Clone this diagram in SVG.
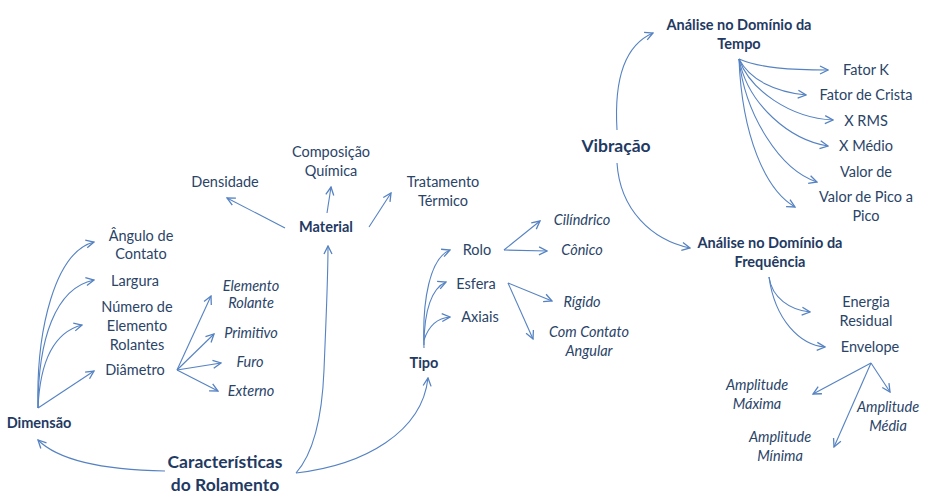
<svg xmlns="http://www.w3.org/2000/svg" width="928" height="494" viewBox="0 0 928 494">
<defs>
<marker id="ah" viewBox="0 0 10 10" refX="9" refY="5" markerWidth="10" markerHeight="10" markerUnits="userSpaceOnUse" orient="auto">
<path d="M1,1 L9,5 L1,9" fill="none" stroke="#5582c2" stroke-width="1.3"/>
</marker>
<style>
text{font-family:Lato,"Open Sans","Liberation Sans",sans-serif;text-anchor:middle;fill:#2a4468}
.r{font-size:14.5px}
.i{font-size:14.5px;font-style:italic}
.b{font-size:14.5px;font-weight:bold;fill:#1f3a63}
.bb{font-size:17.5px;font-weight:bold;fill:#1f3a63}
.c path{fill:none;stroke:#5582c2;stroke-width:1.1;marker-end:url(#ah)}
.c path.n{marker-end:none}
</style>
</defs>
<rect width="928" height="494" fill="#ffffff"/>
<g class="c" id="connectors">
<path d="M165,471 C110,470 60,462 38,440"/>
<path class="n" d="M296,473 C312,455 322,420 324,370"/>
<path d="M324,370 C326,320 328,280 328,246"/>
<path d="M296,473 C365,465 422,432 428,378"/>
<path d="M38,408 C36,330 55,252 94,242"/>
<path d="M38,408 C38,340 55,288 94,280"/>
<path d="M38,408 C40,360 55,332 82,325"/>
<path d="M38,408 L94,371"/>
<path d="M177,370 L211,296"/>
<path d="M177,370 L214,334"/>
<path d="M177,370 L221,363"/>
<path d="M177,370 L218,391"/>
<path d="M285,228 L227,198"/>
<path d="M327,213 L331,187"/>
<path d="M369,227 L391,193"/>
<path d="M424,348 C422,300 430,258 450,250"/>
<path d="M424,345 C424,310 432,288 446,282"/>
<path d="M424,340 C428,328 436,318 450,317"/>
<path d="M504,250 L540,221"/>
<path d="M504,250 L547,251"/>
<path d="M508,283 L552,301"/>
<path d="M508,283 L533,339"/>
<path d="M617,130 C614,80 625,45 653,33"/>
<path d="M617,163 C620,210 652,240 690,248"/>
<path d="M739,59 C760,68 790,70 828,70"/>
<path d="M739,59 C750,80 775,92 806,95"/>
<path d="M739,59 C750,90 790,118 833,120"/>
<path d="M739,59 C748,105 790,140 828,146"/>
<path d="M739,59 C745,115 780,170 817,182"/>
<path d="M739,59 C742,135 765,190 795,207"/>
<path d="M769,277 C772,298 790,310 810,312"/>
<path d="M769,277 C775,320 800,345 825,347"/>
<path d="M871,363 L813,394"/>
<path d="M871,363 L834,447"/>
<path d="M871,363 L890,392"/>
</g>
<g id="caracteristicas"><text class="bb" x="225" y="468">Características</text><text class="bb" x="225" y="491">do Rolamento</text></g>
<g id="dimensao"><text class="b" x="39" y="428">Dimensão</text></g>
<g id="angulo"><text class="r" x="141" y="241">Ângulo de</text><text class="r" x="141" y="259">Contato</text></g>
<g id="largura"><text class="r" x="135" y="286">Largura</text></g>
<g id="numero"><text class="r" x="137" y="312">Número de</text><text class="r" x="137" y="331">Elemento</text><text class="r" x="137" y="350">Rolantes</text></g>
<g id="diametro"><text class="r" x="135" y="375">Diâmetro</text></g>
<g id="elemrolante"><text class="i" x="251" y="291">Elemento</text><text class="i" x="251" y="308">Rolante</text></g>
<g id="primitivo"><text class="i" x="251" y="338">Primitivo</text></g>
<g id="furo"><text class="i" x="250" y="367">Furo</text></g>
<g id="externo"><text class="i" x="251" y="396">Externo</text></g>
<g id="material"><text class="b" x="326" y="232">Material</text></g>
<g id="densidade"><text class="r" x="225" y="187">Densidade</text></g>
<g id="composicao"><text class="r" x="331" y="157">Composição</text><text class="r" x="331" y="176">Química</text></g>
<g id="tratamento"><text class="r" x="443" y="187">Tratamento</text><text class="r" x="443" y="206">Térmico</text></g>
<g id="tipo"><text class="b" x="424" y="368">Tipo</text></g>
<g id="rolo"><text class="r" x="477" y="255">Rolo</text></g>
<g id="esfera"><text class="r" x="476" y="289">Esfera</text></g>
<g id="axiais"><text class="r" x="480" y="322">Axiais</text></g>
<g id="cilindrico"><text class="i" x="582" y="225">Cilíndrico</text></g>
<g id="conico"><text class="i" x="582" y="255">Cônico</text></g>
<g id="rigido"><text class="i" x="582" y="307">Rígido</text></g>
<g id="comcontato"><text class="i" x="589" y="337">Com Contato</text><text class="i" x="589" y="356">Angular</text></g>
<g id="vibracao"><text class="bb" x="616" y="152">Vibração</text></g>
<g id="tempo"><text class="b" x="739" y="30">Análise no Domínio da</text><text class="b" x="739" y="49">Tempo</text></g>
<g id="fatork"><text class="r" x="866" y="75">Fator K</text></g>
<g id="fatorcrista"><text class="r" x="866" y="100">Fator de Crista</text></g>
<g id="xrms"><text class="r" x="866" y="126">X RMS</text></g>
<g id="xmedio"><text class="r" x="866" y="151">X Médio</text></g>
<g id="valorde"><text class="r" x="866" y="177">Valor de</text></g>
<g id="valorpico"><text class="r" x="866" y="202">Valor de Pico a</text><text class="r" x="866" y="221">Pico</text></g>
<g id="frequencia"><text class="b" x="770" y="248">Análise no Domínio da</text><text class="b" x="770" y="267">Frequência</text></g>
<g id="energia"><text class="r" x="866" y="307">Energia</text><text class="r" x="866" y="326">Residual</text></g>
<g id="envelope"><text class="r" x="870" y="352">Envelope</text></g>
<g id="ampmax"><text class="i" x="757" y="390">Amplitude</text><text class="i" x="757" y="409">Máxima</text></g>
<g id="ampmedia"><text class="i" x="888" y="412">Amplitude</text><text class="i" x="888" y="431">Média</text></g>
<g id="ampmin"><text class="i" x="780" y="442">Amplitude</text><text class="i" x="780" y="461">Mínima</text></g>
</svg>
